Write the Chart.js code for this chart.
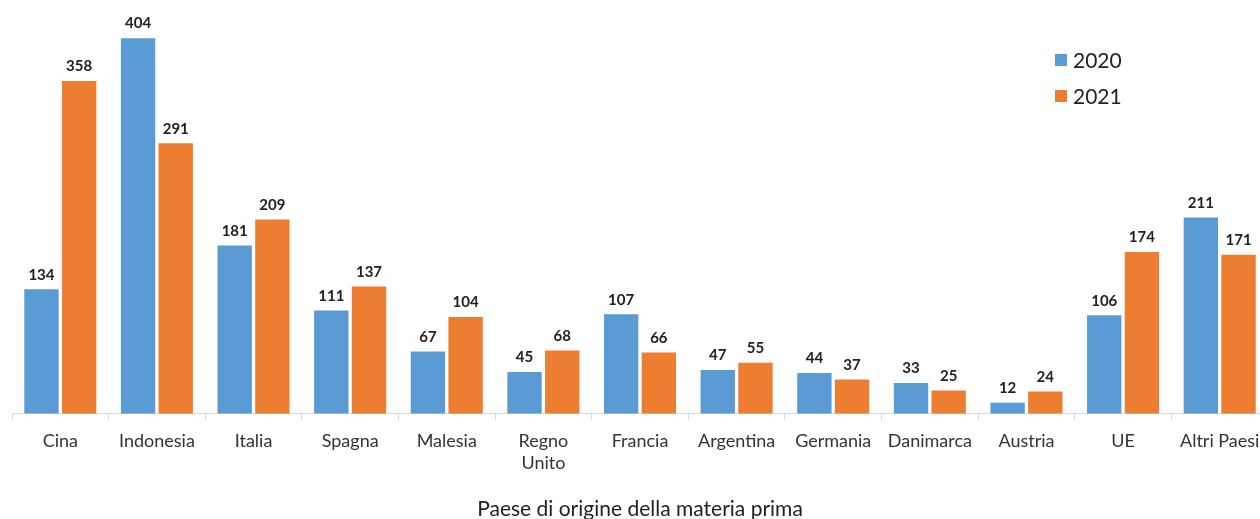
<!DOCTYPE html>
<html><head><meta charset="utf-8">
<script src="https://cdn.jsdelivr.net/npm/chart.js@4/dist/chart.umd.min.js"></script>
<style>
html,body{margin:0;padding:0;overflow:hidden;background:#fff;width:1260px;height:519px}
#wrap{position:absolute;left:0;top:0;width:1270px;height:522px}
</style></head>
<body><div id="wrap"><canvas id="c" width="1270" height="522"></canvas></div>
<script>
const categories = ['Cina','Indonesia','Italia','Spagna','Malesia',['Regno','Unito'],'Francia','Argentina','Germania','Danimarca','Austria','UE','Altri Paesi'];
const seriesNames = ['2020','2021'];
const values2020 = [134,404,181,111,67,45,107,47,44,33,12,106,211];
const values2021 = [358,291,209,137,104,68,66,55,37,25,24,174,171];
const axisTitle = 'Paese di origine della materia prima';

const FONT = 'Lato, "Open Sans", sans-serif';

const valueLabels = {
  id:'valueLabels',
  afterDatasetsDraw(chart){
    const ctx = chart.ctx;
    ctx.save();
    ctx.font = 'bold 15px ' + FONT;
    ctx.fillStyle = '#222';
    ctx.textAlign = 'center';
    ctx.textBaseline = 'bottom';
    chart.data.datasets.forEach((ds,i)=>{
      chart.getDatasetMeta(i).data.forEach((bar,j)=>{
        ctx.fillText(String(ds.data[j]), bar.x, bar.y - 7);
      });
    });
    ctx.restore();
  }
};

const customLegend = {
  id:'customLegend',
  afterDraw(chart){
    const ctx = chart.ctx;
    ctx.save();
    ctx.font = '21px ' + FONT;
    ctx.textBaseline = 'middle';
    ctx.textAlign = 'left';
    chart.data.datasets.forEach((ds,i)=>{
      const y = 60 + i*36;
      ctx.fillStyle = ds.backgroundColor;
      ctx.fillRect(1055, y-6, 12, 12);
      ctx.fillStyle = '#222';
      ctx.fillText(ds.label, 1073, y+1);
    });
    ctx.restore();
  }
};

new Chart(document.getElementById('c'), {
  type:'bar',
  data:{
    labels: categories,
    datasets:[
      {label: seriesNames[0], data: values2020, backgroundColor:'#5B9BD5'},
      {label: seriesNames[1], data: values2021, backgroundColor:'#ED7D31'}
    ]
  },
  options:{
    responsive:false,
    animation:false,
    layout:{padding:{left:12,right:2,top:0,bottom:0}},
    categoryPercentage:0.78,
    barPercentage:0.912,
    plugins:{legend:{display:false},tooltip:{enabled:false}},
    scales:{
      y:{display:false,min:0,max:445},
      x:{
        grid:{display:true,drawOnChartArea:false,drawTicks:true,tickLength:6,color:'#d9d9d9',offset:true},
        border:{display:true,color:'#d9d9d9',width:1},
        ticks:{color:'#333',font:{family:FONT,size:18,lineHeight:1.25},padding:10,maxRotation:0,autoSkip:false},
        title:{display:true,text:axisTitle,color:'#222',font:{family:FONT,size:21},padding:{top:12,bottom:0}}
      }
    }
  },
  plugins:[valueLabels,customLegend]
});
</script></body></html>
